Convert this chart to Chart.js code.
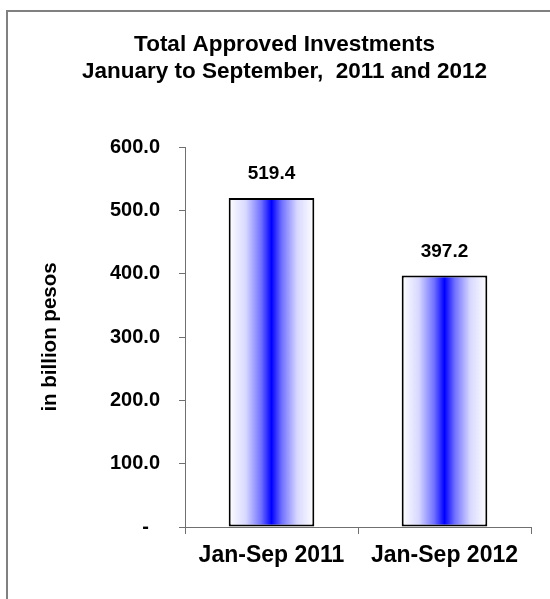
<!DOCTYPE html>
<html>
<head>
<meta charset="utf-8">
<script src="https://cdn.jsdelivr.net/npm/chart.js@4"></script>
<style>
  body { margin: 0; background: #fff; }
</style>
</head>
<body>
<canvas id="chart" width="550" height="599"></canvas>
<script>
const categories = ["Jan-Sep 2011", "Jan-Sep 2012"];
const investments = [519.4, 397.2];
const yMin = 0, yMax = 600, yStep = 100;
const titleLines = ["Total Approved Investments", "January to September,  2011 and 2012"];
const yAxisTitle = "in billion pesos";

Chart.defaults.font.family = "'Liberation Sans', Arial, sans-serif";
Chart.defaults.font.weight = "bold";
Chart.defaults.color = "#000";

const barFrac = 0.495;

function barGradient(ctx) {
  const chart = ctx.chart;
  const xs = chart.scales.x;
  if (!xs || !chart.chartArea) return "#0000ff";
  const cx = xs.getPixelForValue(ctx.dataIndex);
  const half = xs.width / categories.length * barFrac / 2;
  const g = chart.ctx.createLinearGradient(cx - half, 0, cx + half, 0);
  g.addColorStop(0, "#ffffff");
  g.addColorStop(0.2, "#d8d8ff");
  g.addColorStop(0.38, "#7070ff");
  g.addColorStop(0.5, "#0000ff");
  g.addColorStop(0.62, "#7070ff");
  g.addColorStop(0.8, "#d8d8ff");
  g.addColorStop(1, "#ffffff");
  return g;
}

// grey frame round the whole chart
const frame = {
  id: "frame",
  beforeDraw(chart) {
    const c = chart.ctx;
    c.save();
    c.strokeStyle = "#808080";
    c.lineWidth = 2;
    c.strokeRect(7, 11, 600, 700);
    c.restore();
  }
};

const valueLabels = {
  id: "valueLabels",
  afterDatasetsDraw(chart) {
    const c = chart.ctx;
    const meta = chart.getDatasetMeta(0);
    c.save();
    c.font = "bold 19px 'Liberation Sans', Arial, sans-serif";
    c.fillStyle = "#000";
    c.textAlign = "center";
    c.textBaseline = "middle";
    meta.data.forEach((bar, i) => {
      c.fillText(investments[i].toFixed(1), bar.x, bar.y - 24);
    });
    c.restore();
  }
};

new Chart(document.getElementById("chart"), {
  type: "bar",
  data: {
    labels: categories,
    datasets: [{
      data: investments,
      backgroundColor: barGradient,
      borderColor: "#000",
      borderWidth: 2,
      borderSkipped: false,
      categoryPercentage: 1,
      barPercentage: barFrac
    }]
  },
  options: {
    responsive: false,
    animation: false,
    layout: { padding: { left: 38, right: 19, top: 0, bottom: 0 } },
    scales: {
      x: {
        offset: true,
        grid: { offset: true, drawOnChartArea: false, tickLength: 7, color: "#707070" },
        border: { color: "#707070" },
        ticks: { font: { size: 23 }, padding: 8, maxRotation: 0 },
        afterFit: s => { s.height = 72; }
      },
      y: {
        min: yMin,
        max: yMax,
        grid: { drawOnChartArea: false, tickLength: 6, color: "#707070" },
        border: { color: "#707070" },
        ticks: {
          stepSize: yStep,
          padding: 19,
          font: { size: 20 },
          callback: v => v === 0 ? "-  " : v.toFixed(1)
        },
        title: { display: true, text: yAxisTitle, font: { size: 20.5 }, padding: 0 },
        afterFit: s => { s.width = 147; }
      }
    },
    plugins: {
      legend: { display: false },
      tooltip: { enabled: false },
      title: {
        display: true,
        text: titleLines,
        font: { size: 22.5 },
        lineHeight: 1.1,
        padding: { top: 31, bottom: 62 }
      }
    }
  },
  plugins: [frame, valueLabels]
});
</script>
</body>
</html>
